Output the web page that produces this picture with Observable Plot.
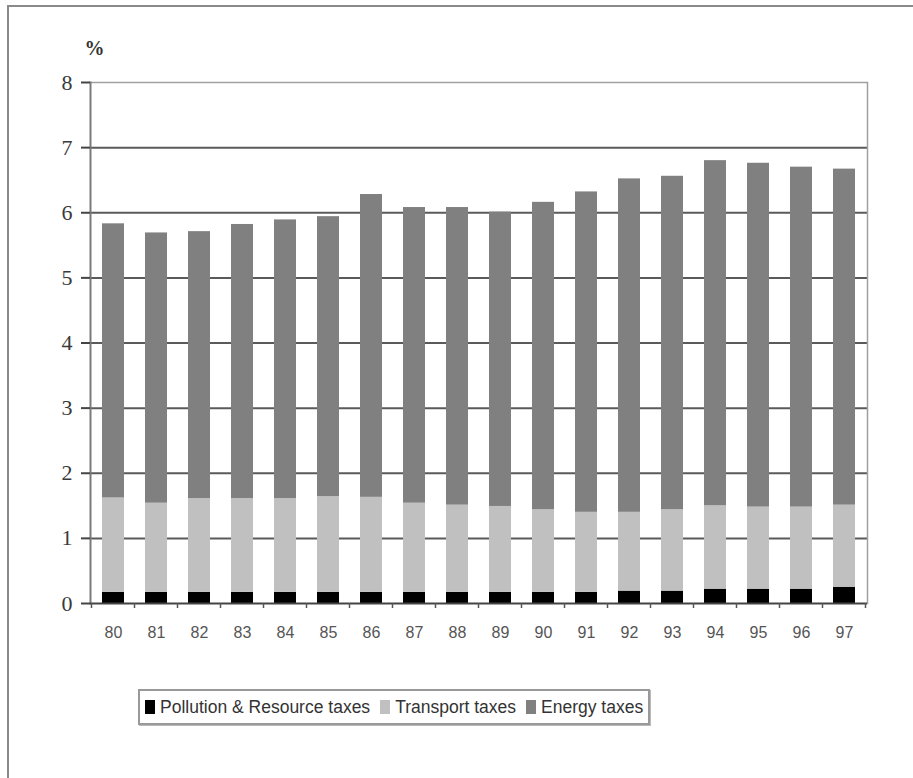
<!DOCTYPE html>
<html>
<head>
<meta charset="utf-8">
<script src="https://cdn.jsdelivr.net/npm/d3@7"></script>
<script src="https://cdn.jsdelivr.net/npm/@observablehq/plot@0.6"></script>
<style>
  html, body { margin: 0; padding: 0; background: #fff; }
  #page { position: relative; width: 913px; height: 778px; overflow: hidden; }
  #frame { position: absolute; left: 7px; top: 5px; right: -10px; bottom: -10px;
           border-left: 2px solid #8a8a8a; border-top: 2px solid #8a8a8a; }
  #chart { position: absolute; left: 0; top: 0; }
  #legend { position: absolute; left: 138px; top: 689px; width: 503px; height: 32px;
            border: 2px solid #999; box-shadow: 1px 1px 0 #bbb;
            display: flex; align-items: center; padding-left: 5px; box-sizing: content-box;
            font-family: "Liberation Sans", Arial, sans-serif; font-size: 17.5px; color: #333; }
  #legend .item { display: flex; align-items: center; margin-right: 10px; white-space: nowrap; }
  #legend .sw { width: 10px; height: 14px; margin-right: 5px; }
</style>
</head>
<body>
<div id="page">
  <div id="frame"></div>
  <div id="chart"></div>
  <div id="legend"></div>
</div>
<script>
// Environmental taxes as a share of total tax revenue, 1980–1997
const years = ["80","81","82","83","84","85","86","87","88","89","90","91","92","93","94","95","96","97"];
const series = ["Pollution & Resource taxes", "Transport taxes", "Energy taxes"];
const colors = ["#000000", "#c0c0c0", "#808080"];

const pollution = [0.17,0.17,0.17,0.17,0.17,0.17,0.17,0.17,0.17,0.17,0.17,0.17,0.19,0.19,0.22,0.22,0.22,0.25];
const transport = [1.45,1.37,1.44,1.44,1.44,1.47,1.46,1.37,1.34,1.32,1.27,1.23,1.21,1.25,1.28,1.26,1.26,1.26];
const energy    = [4.21,4.15,4.10,4.21,4.28,4.30,4.65,4.54,4.57,4.52,4.72,4.92,5.12,5.12,5.30,5.28,5.22,5.16];

const yTicks = [0,1,2,3,4,5,6,7,8];

// long-format table for the stacked bars
const values = [pollution, transport, energy];
const rows = [];
series.forEach((s, si) => years.forEach((yr, i) => rows.push({year: yr, series: s, value: values[si][i]})));

// small tick marks on the category boundaries below the x axis
function boundaryTicks(index, scales, channels, dimensions) {
  const x = scales.x, y = scales.y;
  const bw = x.bandwidth ? x.bandwidth() : 0;
  const step = x.step ? x.step() : (x(years[1]) - x(years[0]));
  const gap = (step - bw) / 2;
  const xs = years.map(yr => x(yr) - gap);
  xs.push(x(years[years.length - 1]) + bw + gap);
  const y0 = y(0);
  const g = d3.create("svg:g");
  g.selectAll("line").data(xs).join("line")
    .attr("x1", d => d).attr("x2", d => d)
    .attr("y1", y0).attr("y2", y0 + 5)
    .attr("stroke", "#555").attr("stroke-width", 1.5);
  return g.node();
}

const plot = Plot.plot({
  width: 913,
  height: 650,
  marginTop: 82,
  marginBottom: 47,
  marginLeft: 90,
  marginRight: 46,
  x: { domain: years, paddingInner: 0.49, paddingOuter: 0.245, label: null },
  y: { domain: [0, 8], label: null },
  color: { domain: series, range: colors },
  marks: [
    // horizontal gridlines
    Plot.ruleY(yTicks.filter(v => v > 0 && v < 8), { stroke: "#5a5a5a", strokeWidth: 2 }),
    // plot-area border on top and right
    Plot.ruleY([8], { stroke: "#a0a0a0", strokeWidth: 1.5 }),
    Plot.frame({ anchor: "right", stroke: "#a0a0a0", strokeWidth: 1.5 }),
    // stacked bars
    Plot.barY(rows, { x: "year", y: "value", fill: "series", order: series }),
    // axes
    Plot.frame({ anchor: "left", stroke: "#7a7a7a", strokeWidth: 2 }),
    Plot.ruleY([0], { stroke: "#444", strokeWidth: 2 }),
    Plot.axisY({
      ticks: yTicks, tickSize: 9, tickPadding: 9, tickFormat: d => d,
      stroke: "#444", strokeWidth: 2,
      fontFamily: "Liberation Serif, Times New Roman, serif", fontSize: 22, fill: "#3a3a3a"
    }),
    Plot.axisX({
      tickSize: 0, tickPadding: 23,
      fontFamily: "Liberation Sans, Arial, sans-serif", fontSize: 16, fill: "#555"
    }),
    boundaryTicks,
    Plot.text(["%"], {
      frameAnchor: "top-left", dx: -6, dy: -42, text: d => d,
      fontFamily: "Liberation Serif, Times New Roman, serif", fontSize: 20, fontWeight: "bold", fill: "#333"
    })
  ]
});
plot.style.background = "transparent";
document.getElementById("chart").appendChild(plot);

// legend
const legend = document.getElementById("legend");
series.forEach((s, i) => {
  const item = document.createElement("div");
  item.className = "item";
  const sw = document.createElement("span");
  sw.className = "sw";
  sw.style.background = colors[i];
  const label = document.createElement("span");
  label.textContent = s;
  item.appendChild(sw);
  item.appendChild(label);
  legend.appendChild(item);
});
</script>
</body>
</html>
